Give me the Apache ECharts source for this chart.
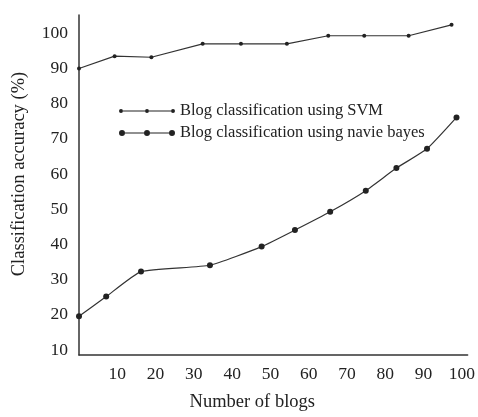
<!DOCTYPE html>
<html>
<head>
<meta charset="utf-8">
<script src="https://cdn.jsdelivr.net/npm/echarts@6/dist/echarts.min.js"></script>
<style>
  html, body { margin: 0; padding: 0; background: #fff; }
  #chart { width: 478px; height: 417px; }
</style>
</head>
<body>
<div id="chart"></div>
<script>
// values
const xTicks = [10, 20, 30, 40, 50, 60, 70, 80, 90, 100]
const yTicks = [10, 20, 30, 40, 50, 60, 70, 80, 90, 100]

const svmX = [0, 9.3, 18.9, 32.3, 42.3, 54.3, 65.1, 74.5, 86.1, 97.3]
const svmY = [90.0, 93.5, 93.2, 97.0, 97.0, 97.0, 99.3, 99.3, 99.3, 102.4]

const nbX = [0, 7.1, 16.2, 34.2, 47.7, 56.4, 65.6, 74.9, 82.9, 90.9, 98.6]
const nbY = [19.6, 25.2, 32.3, 34.1, 39.4, 44.1, 49.3, 55.3, 61.7, 67.2, 76.1]

const svmName = 'Blog classification using SVM'
const nbName = 'Blog classification using navie bayes'

const font = 'Liberation Serif'
const ink = '#222'

const pairs = (xs, ys) => xs.map((x, i) => [x, ys[i]])

// legend icons: a line with three dots (segments only between the dots so nothing cancels out)
const svmIcon = 'path://M4,1.5H26V2.5H4Z M30,1.5H52V2.5H30Z M0,2a2,2 0 1,0 4,0a2,2 0 1,0 -4,0Z M26,2a2,2 0 1,0 4,0a2,2 0 1,0 -4,0Z M52,2a2,2 0 1,0 4,0a2,2 0 1,0 -4,0Z'
const nbIcon = 'path://M6,2.5H25V3.5H6Z M31,2.5H50V3.5H31Z M0,3a3,3 0 1,0 6,0a3,3 0 1,0 -6,0Z M25,3a3,3 0 1,0 6,0a3,3 0 1,0 -6,0Z M50,3a3,3 0 1,0 6,0a3,3 0 1,0 -6,0Z'

const chart = echarts.init(document.getElementById('chart'))

const legendText = { fontFamily: font, fontSize: 16.5, color: ink, lineHeight: 18 }

chart.setOption({
  animation: false,
  grid: { left: 79, right: 10, top: 15, bottom: 57 },
  legend: [
    {
      data: [{ name: svmName, icon: svmIcon }],
      left: 119, top: 102, padding: 0,
      itemWidth: 56, itemHeight: 4,
      itemStyle: { color: ink, borderWidth: 0 },
      textStyle: legendText
    },
    {
      data: [{ name: nbName, icon: nbIcon }],
      left: 119, top: 124, padding: 0,
      itemWidth: 56, itemHeight: 6,
      itemStyle: { color: ink, borderWidth: 0 },
      textStyle: legendText
    }
  ],
  xAxis: {
    type: 'value',
    min: 0,
    max: 101.5,
    name: 'Number of blogs',
    nameLocation: 'middle',
    nameGap: 38,
    nameTextStyle: { fontFamily: font, fontSize: 18.5, color: ink, padding: [0, 42, 0, 0] },
    axisLine: { show: true, lineStyle: { color: '#333', width: 1.5 } },
    axisTick: { show: false },
    splitLine: { show: false },
    axisLabel: {
      customValues: xTicks,
      margin: 10,
      fontFamily: font, fontSize: 17.5, color: ink
    }
  },
  yAxis: {
    type: 'value',
    min: 8.6,
    max: 105.2,
    name: 'Classification accuracy (%)',
    nameLocation: 'middle',
    nameGap: 50,
    nameRotate: 90,
    nameTextStyle: { fontFamily: font, fontSize: 18.5, color: ink, padding: [0, 0, 0, 22] },
    axisLine: { show: true, lineStyle: { color: '#333', width: 1.5 } },
    axisTick: { show: false },
    splitLine: { show: false },
    axisLabel: {
      customValues: yTicks,
      margin: 11,
      fontFamily: font, fontSize: 17.5, color: ink
    }
  },
  series: [
    {
      name: svmName,
      type: 'line',
      data: pairs(svmX, svmY),
      symbol: 'circle',
      symbolSize: 4,
      itemStyle: { color: ink },
      lineStyle: { color: '#333', width: 1.2 }
    },
    {
      name: nbName,
      type: 'line',
      data: pairs(nbX, nbY),
      smooth: 0.15,
      symbol: 'circle',
      symbolSize: 6,
      itemStyle: { color: ink },
      lineStyle: { color: '#333', width: 1.2 }
    }
  ]
})
</script>
</body>
</html>
